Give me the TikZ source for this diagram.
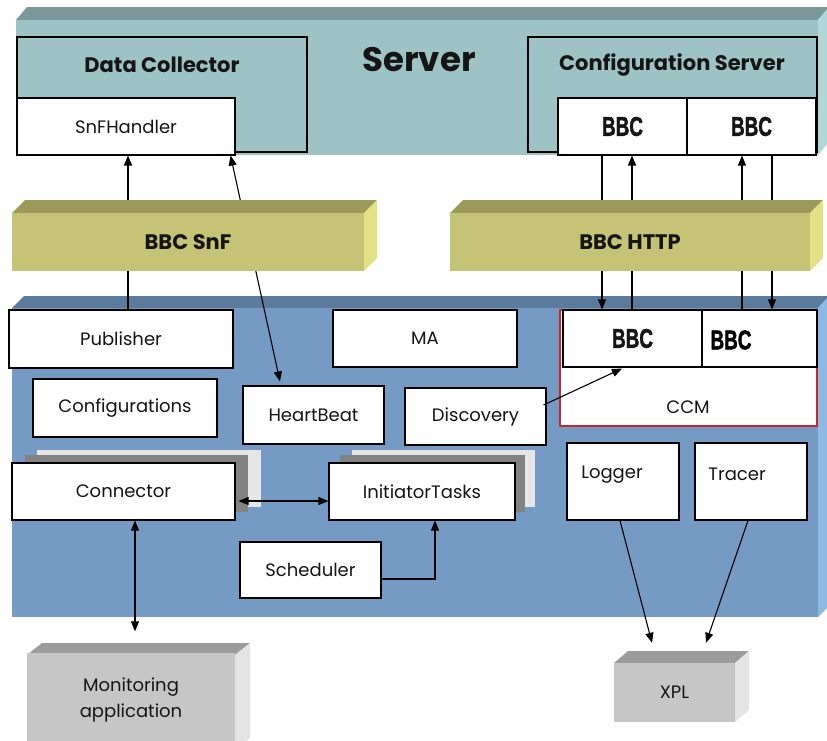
\documentclass[tikz,border=0pt]{standalone}
\usepackage{fontspec}
\setmainfont{Poppins}
\newfontfamily\bbcfont{Liberation Sans}[BoldFeatures={FakeBold=2}]
\usetikzlibrary{arrows.meta,calc}

\definecolor{srvfront}{HTML}{9DC3C5}
\definecolor{srvtop}{HTML}{7A9899}
\definecolor{srvside}{HTML}{B3D6D8}
\definecolor{barfront}{HTML}{C4C376}
\definecolor{bartop}{HTML}{9B9A5B}
\definecolor{barside}{HTML}{E2E186}
\definecolor{bluefront}{HTML}{759BC5}
\definecolor{bluetop}{HTML}{5B7B9C}
\definecolor{blueside}{HTML}{8DB9E3}
\definecolor{grayfront}{HTML}{C6C6C6}
\definecolor{graytop}{HTML}{9C9C9C}
\definecolor{grayside}{HTML}{E4E4E4}
\definecolor{shdark}{HTML}{828282}
\definecolor{shlight}{HTML}{E6E6E6}
\definecolor{ccmred}{HTML}{C8262A}
\definecolor{ink}{HTML}{151515}

\newcommand{\bbclabel}{\scalebox{0.7}[1]{\bbcfont\bfseries\fontsize{27}{27}\selectfont BBC}}

\tikzset{
  box/.style={draw=black, line width=1.1pt, fill=white, rectangle, inner sep=0pt,
    text=ink, font=\fontsize{18}{18}\selectfont},
  txt/.style={inner sep=0pt, text=ink, font=\fontsize{18}{18}\selectfont},
  boldtxt/.style={inner sep=0pt, text=ink, font=\bfseries\fontsize{21}{21}\selectfont},
  link/.style={line width=1.1pt, draw=black},
  arr/.style={link, -{Triangle[length=10pt,width=8pt]}},
  twoway/.style={link, {Triangle[length=10pt,width=8pt]}-{Triangle[length=10pt,width=8pt]}},
}

\begin{document}
\begin{tikzpicture}[x=1pt,y=-1pt]
\useasboundingbox (0,0) rectangle (827,740);
\clip (0,0) rectangle (827,740);
\fill[white] (0,0) rectangle (827,740);

% ---------- Server slab ----------
\fill[srvtop] (16,20) -- (27,7) -- (829,7) -- (818,20) -- cycle;
\fill[srvside] (818,20) -- (829,7) -- (829,142) -- (818,155) -- cycle;
\fill[srvfront] (16,20) rectangle (818,155);
\node[inner sep=0pt, text=ink, font=\bfseries\fontsize{34}{34}\selectfont] (srvtitle) at (419,60) {Server};

\node[draw=black, line width=1.1pt, rectangle, minimum width=290pt, minimum height=115pt] (dc) at (162,94.5) {};
\node[boldtxt] (dctitle) at (162,65) {Data Collector};
\node[box, minimum width=218pt, minimum height=57pt] (snfh) at (126,126.5) {SnFHandler};

\node[draw=black, line width=1.1pt, rectangle, minimum width=289pt, minimum height=115pt] (cs) at (672.5,94.5) {};
\node[boldtxt] (cstitle) at (672,65) {Configuration Server};
\node[box, minimum width=129pt, minimum height=57pt] (cbbc1) at (622.5,126.5) {\bbclabel};
\node[box, minimum width=129pt, minimum height=57pt] (cbbc2) at (751.5,126.5) {\bbclabel};

% ---------- Agent slab ----------
\fill[bluetop] (12,308) -- (24,296) -- (829,296) -- (818,308) -- cycle;
\fill[blueside] (818,308) -- (829,296) -- (829,606) -- (818,617) -- cycle;
\fill[bluefront] (12,308) rectangle (818,617);

\node[box, minimum width=224pt, minimum height=58pt] (pub) at (121,339) {Publisher};
\node[box, minimum width=184pt, minimum height=57pt] (ma) at (425,338.5) {MA};
\node[box, minimum width=184pt, minimum height=58pt] (conf) at (125,408) {Configurations};
\node[box, minimum width=141pt, minimum height=58pt] (hb) at (313.5,415) {HeartBeat};
\node[box, minimum width=141pt, minimum height=57pt] (disc) at (475.5,416.5) {Discovery};

\node[draw=ccmred, line width=1.1pt, fill=white, rectangle, minimum width=257pt, minimum height=116pt] (ccm) at (688.5,368) {};
\node[txt] (ccmtitle) at (688,407) {CCM};
\node[box, minimum width=139pt, minimum height=57pt] (mbbc1) at (632.5,338.5) {\bbclabel};
\node[box, minimum width=115pt, minimum height=57pt] (mbbc2) at (759.5,338.5) {};
\node[inner sep=0pt] (mbbc2txt) at (731,340) {\bbclabel};

% stacked shadows behind Connector and InitiatorTasks
\fill[shlight] (37,450) rectangle (261,507);
\fill[shdark] (25,455) rectangle (248,512);
\fill[shlight] (352,450) rectangle (535,507);
\fill[shdark] (340,455) rectangle (525,512);
\node[box, minimum width=223pt, minimum height=57pt] (conn) at (123.5,491.5) {Connector};
\node[box, minimum width=186pt, minimum height=57pt] (init) at (422,491.5) {InitiatorTasks};
\node[box, minimum width=141pt, minimum height=56pt] (sched) at (310.5,570) {Scheduler};

\node[box, minimum width=112pt, minimum height=77pt] (log) at (623,481.5) {};
\node[txt] (logtxt) at (612,475) {Logger};
\node[box, minimum width=112pt, minimum height=77pt] (trc) at (751,481.5) {};
\node[txt] (trctxt) at (737,474) {Tracer};

% ---------- external boxes ----------
\fill[graytop] (27,655) -- (42,643) -- (250,643) -- (235,655) -- cycle;
\fill[grayside] (235,655) -- (250,643) -- (250,738) -- (235,750) -- cycle;
\node[fill=grayfront, rectangle, inner sep=0pt, minimum width=208pt, minimum height=95pt,
  text=ink, align=center, font=\fontsize{18}{26}\selectfont] (mon) at (131,700) {Monitoring\\application};

\fill[graytop] (614,663) -- (628,651) -- (749,651) -- (735,663) -- cycle;
\fill[grayside] (735,663) -- (749,651) -- (749,710) -- (735,722) -- cycle;
\node[fill=grayfront, rectangle, inner sep=0pt, minimum width=121pt, minimum height=59pt,
  text=ink, font=\fontsize{18}{18}\selectfont] (xpl) at (674.5,692.5) {XPL};

% ---------- connectors ----------
\coordinate (xa) at (128,0);
\coordinate (xb) at (602,0);
\coordinate (xc) at (632,0);
\coordinate (xd) at (742,0);
\coordinate (xe) at (772,0);

\draw[arr] (pub.north -| xa) -- (snfh.south -| xa);
\draw[twoway] ([xshift=-5pt]snfh.south east) -- ([xshift=-33.5pt,yshift=4pt]hb.north);

\draw[arr] (cbbc1.south -| xb) -- (mbbc1.north -| xb);
\draw[arr] (mbbc1.north -| xc) -- (cbbc1.south -| xc);
\draw[arr] (mbbc2.north -| xd) -- (cbbc2.south -| xd);
\draw[arr] (cbbc2.south -| xe) -- (mbbc2.north -| xe);

\draw[arr] ([xshift=-3pt,yshift=11.5pt]disc.east) -- ([xshift=-10.5pt,yshift=-1pt]mbbc1.south);
\draw[twoway] ([xshift=3pt,yshift=-9.5pt]conn.east) -- ([yshift=-9.5pt]init.west);
\draw[arr] ([yshift=-9pt]sched.east) -| ([xshift=13pt]init.south);
\draw[twoway] ([xshift=11.5pt]conn.south) -- ([xshift=4pt,yshift=21pt]mon.north);
\draw[arr] ([xshift=-3pt]log.south) -- ([xshift=-22.5pt,yshift=20pt]xpl.north);
\draw[arr] ([xshift=-3pt]trc.south) -- ([xshift=31.5pt,yshift=20pt]xpl.north);

% ---------- transport bars (in front of the links) ----------
\fill[bartop] (12,213) -- (25,200) -- (377,200) -- (364,213) -- cycle;
\fill[barside] (364,213) -- (377,200) -- (377,258) -- (364,271) -- cycle;
\node[fill=barfront, rectangle, inner sep=0pt, minimum width=352pt, minimum height=58pt,
  text=ink, font=\bfseries\fontsize{21}{21}\selectfont] (snf) at (188,242) {BBC SnF};

\fill[bartop] (450,213) -- (463,200) -- (823,200) -- (810,213) -- cycle;
\fill[barside] (810,213) -- (823,200) -- (823,258) -- (810,271) -- cycle;
\node[fill=barfront, rectangle, inner sep=0pt, minimum width=360pt, minimum height=58pt,
  text=ink, font=\bfseries\fontsize{21}{21}\selectfont] (http) at (630,242) {BBC HTTP};
\end{tikzpicture}
\end{document}
